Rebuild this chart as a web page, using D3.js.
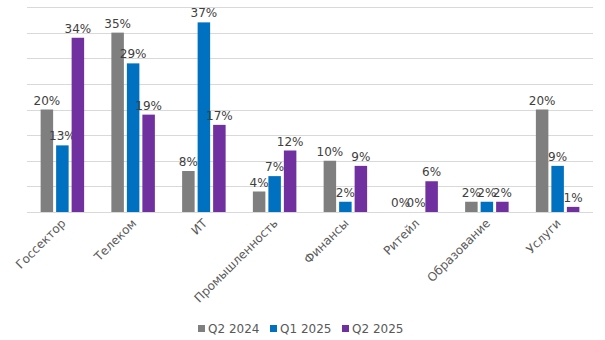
<!DOCTYPE html>
<html><head><meta charset="utf-8">
<script src="https://cdn.jsdelivr.net/npm/d3@7"></script>
<style>body{margin:0;background:#fff}svg{display:block}</style>
</head><body>
<script>
const categories = ["Госсектор","Телеком","ИТ","Промышленность","Финансы","Ритейл","Образование","Услуги"];
const seriesNames = ["Q2 2024","Q1 2025","Q2 2025"];
const q2_2024 = [20,35,8,4,10,0,2,20];
const q1_2025 = [13,29,37,7,2,0,2,9];
const q2_2025 = [34,19,17,12,9,6,2,1];
const colors = ["#7f7f7f","#0070c0","#7030a0"];
const yTicks = [0,5,10,15,20,25,30,35,40];

const W=605,H=340;
const m={left:27,right:12,top:7,bottom:128};
const svg=d3.select("body").append("svg").attr("width",W).attr("height",H);
const font="DejaVu Sans";
const x=d3.scaleBand().domain(categories).range([m.left,W-m.right]);
const y=d3.scaleLinear().domain([0,40]).range([H-m.bottom,m.top]);
const series=[q2_2024,q1_2025,q2_2025];

svg.append("g").selectAll("line").data(yTicks).join("line")
  .attr("x1",m.left).attr("x2",W-m.right)
  .attr("y1",d=>Math.round(y(d))+0.5).attr("y2",d=>Math.round(y(d))+0.5)
  .attr("stroke","#d9d9d9").attr("stroke-width",1);

const bw=12.5, step=15.5;
series.forEach((vals,si)=>{
  const g=svg.append("g");
  g.selectAll("rect").data(vals).join("rect")
    .attr("x",(d,i)=>x(categories[i])+x.bandwidth()/2+(si-1)*step-bw/2)
    .attr("y",d=>y(d)).attr("width",bw).attr("height",d=>y(0)-y(d))
    .attr("fill",colors[si]);
  g.selectAll("text").data(vals).join("text")
    .attr("x",(d,i)=>x(categories[i])+x.bandwidth()/2+(si-1)*step)
    .attr("y",d=>y(d)-5)
    .attr("text-anchor","middle").attr("font-family",font).attr("font-size",12)
    .attr("fill","#404040").text(d=>d+"%");
});

svg.append("g").selectAll("text").data(categories).join("text")
  .attr("transform",d=>`translate(${x(d)+x.bandwidth()/2+4},${y(0)+12}) rotate(-45)`)
  .attr("text-anchor","end").attr("font-family",font).attr("font-size",12)
  .attr("fill","#595959").text(d=>d);

const legendX=[198,270,342];
const lg=svg.append("g");
seriesNames.forEach((n,i)=>{
  lg.append("rect").attr("x",legendX[i]).attr("y",325).attr("width",7).attr("height",7).attr("fill",colors[i]);
  lg.append("text").attr("x",legendX[i]+10).attr("y",333).attr("font-family",font).attr("font-size",12)
    .attr("fill","#595959").text(n);
});
</script>
</body></html>
